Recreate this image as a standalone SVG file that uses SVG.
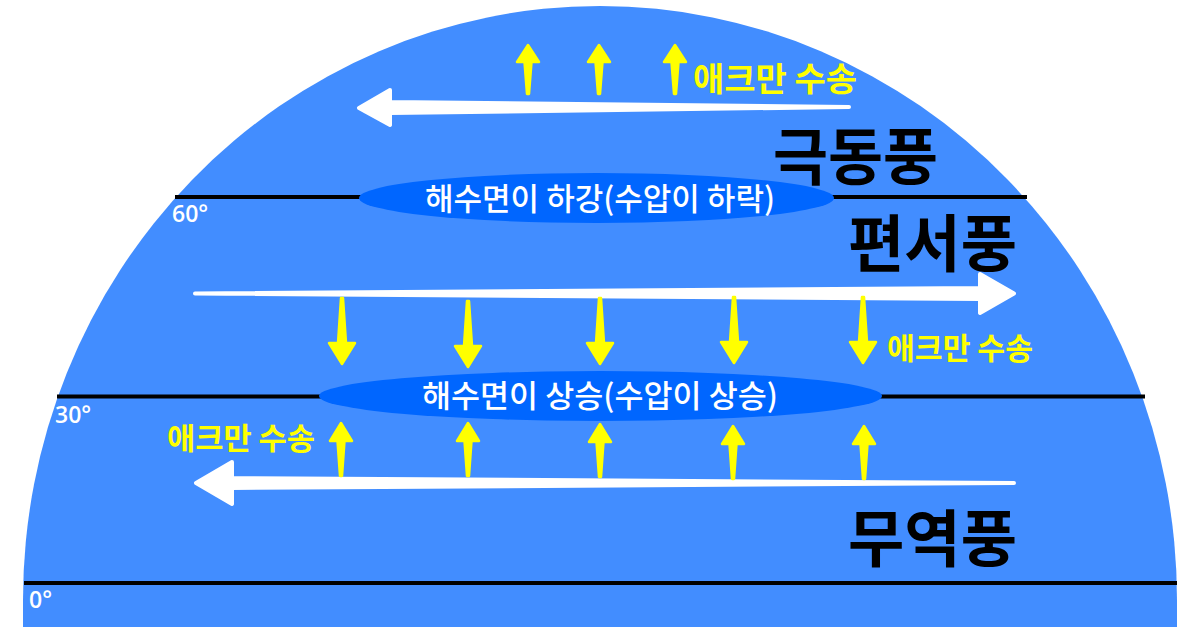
<svg xmlns="http://www.w3.org/2000/svg" xmlns:xlink="http://www.w3.org/1999/xlink" width="1200" height="627" viewBox="0 0 1200 627">
  <style>
    .lat { stroke: #000; stroke-width: 4; fill: none; }
    .deg { font-family: "Open Sans", "DejaVu Sans", sans-serif; font-size: 23px; font-weight: 600; fill: #fff; }
    .press { fill: #0066FF; }
    .ptext { font-family: "Noto Sans CJK KR", sans-serif; font-size: 31px; font-weight: 500; fill: #fff; text-anchor: start; }
    .wind { font-family: "Noto Sans CJK KR", sans-serif; font-size: 62px; font-weight: 700; fill: #000; }
    .ekman { font-family: "Noto Sans CJK KR", sans-serif; font-weight: 700; fill: #FFFF00; }
    .warrow { fill: #fff; stroke: #fff; stroke-width: 4; stroke-linejoin: round; }
    .yarrow { fill: #FFFF00; stroke: #FFFF00; stroke-width: 2.5; stroke-linejoin: round; }
  </style>
  <defs>
    <path id="upA" d="M0,1 L11,18 L3.5,18 L1,50 L-1,50 L-3.5,18 L-11,18 Z"/>
    <path id="upB" d="M0,1 L11,19 L3.5,19 L1,54 L-1,54 L-3.5,19 L-11,19 Z"/>
    <path id="down" d="M-1,0 L1,0 L4,45 L13,45 L0,66 L-13,45 L-4,45 Z"/>
  </defs>

  <!-- hemisphere -->
  <path id="hemisphere" d="M23,627 L23,600 A577,594 0 0 1 1177,600 L1177,627 Z" fill="#428DFF"/>

  <!-- latitude lines -->
  <g id="latitudes">
    <line class="lat" x1="175" y1="197" x2="1027" y2="197"/>
    <line class="lat" x1="57" y1="396.5" x2="1145" y2="396.5"/>
    <line class="lat" x1="24" y1="583" x2="1177" y2="583"/>
    <text class="deg" x="172" y="222">60°</text>
    <text class="deg" x="55" y="423">30°</text>
    <text class="deg" x="29" y="608">0°</text>
  </g>

  <!-- connectors: wind arrows and Ekman transport arrows -->
  <g id="connectors">
    <path class="warrow" d="M849,107 L390,102 L390,90 L359,108 L390,125 L390,113 Z"/>
    <path class="warrow" d="M195,293.5 L980,288 L980,274 L1014,293.5 L980,313 L980,299 Z"/>
    <path class="warrow" d="M1014,483 L232,478 L232,462 L196,483 L232,504 L232,488 Z"/>

    <use class="yarrow" href="#upA" xlink:href="#upA" x="528" y="44"/>
    <use class="yarrow" href="#upA" xlink:href="#upA" x="599" y="44"/>
    <use class="yarrow" href="#upA" xlink:href="#upA" x="675" y="44"/>

    <use class="yarrow" href="#down" xlink:href="#down" x="342" y="298"/>
    <use class="yarrow" href="#down" xlink:href="#down" x="468" y="301"/>
    <use class="yarrow" href="#down" xlink:href="#down" x="600" y="298"/>
    <use class="yarrow" href="#down" xlink:href="#down" x="734" y="297"/>
    <use class="yarrow" href="#down" xlink:href="#down" x="863" y="297"/>

    <use class="yarrow" href="#upB" xlink:href="#upB" x="341" y="422"/>
    <use class="yarrow" href="#upB" xlink:href="#upB" x="468" y="422"/>
    <use class="yarrow" href="#upB" xlink:href="#upB" x="600" y="423"/>
    <use class="yarrow" href="#upB" xlink:href="#upB" x="733" y="425"/>
    <use class="yarrow" href="#upB" xlink:href="#upB" x="864" y="425"/>
  </g>

  <!-- pressure zones -->
  <g id="node-low">
    <ellipse class="press" cx="596.5" cy="198" rx="237.5" ry="25"/>
    <text class="ptext" x="425" y="210" textLength="350" lengthAdjust="spacingAndGlyphs">해수면이 하강(수압이 하락)</text>
  </g>
  <g id="node-high">
    <ellipse class="press" cx="600.5" cy="396" rx="281.5" ry="25"/>
    <text class="ptext" x="422" y="407" textLength="356" lengthAdjust="spacingAndGlyphs">해수면이 상승(수압이 상승)</text>
  </g>

  <!-- wind labels -->
  <g id="node-polar-easterlies">
    <text class="wind" x="773" y="180" textLength="165" lengthAdjust="spacingAndGlyphs">극동풍</text>
  </g>
  <g id="node-westerlies">
    <text class="wind" x="848" y="267" textLength="169" lengthAdjust="spacingAndGlyphs">편서풍</text>
  </g>
  <g id="node-trade-winds">
    <text class="wind" x="848" y="562" textLength="169" lengthAdjust="spacingAndGlyphs">무역풍</text>
  </g>

  <!-- Ekman transport labels -->
  <g id="node-ekman-1">
    <text class="ekman" x="693" y="91" font-size="33" textLength="164" lengthAdjust="spacingAndGlyphs">애크만 수송</text>
  </g>
  <g id="node-ekman-2">
    <text class="ekman" x="887" y="359" font-size="30" textLength="146" lengthAdjust="spacingAndGlyphs">애크만 수송</text>
  </g>
  <g id="node-ekman-3">
    <text class="ekman" x="167" y="449" font-size="30" textLength="148" lengthAdjust="spacingAndGlyphs">애크만 수송</text>
  </g>
</svg>
